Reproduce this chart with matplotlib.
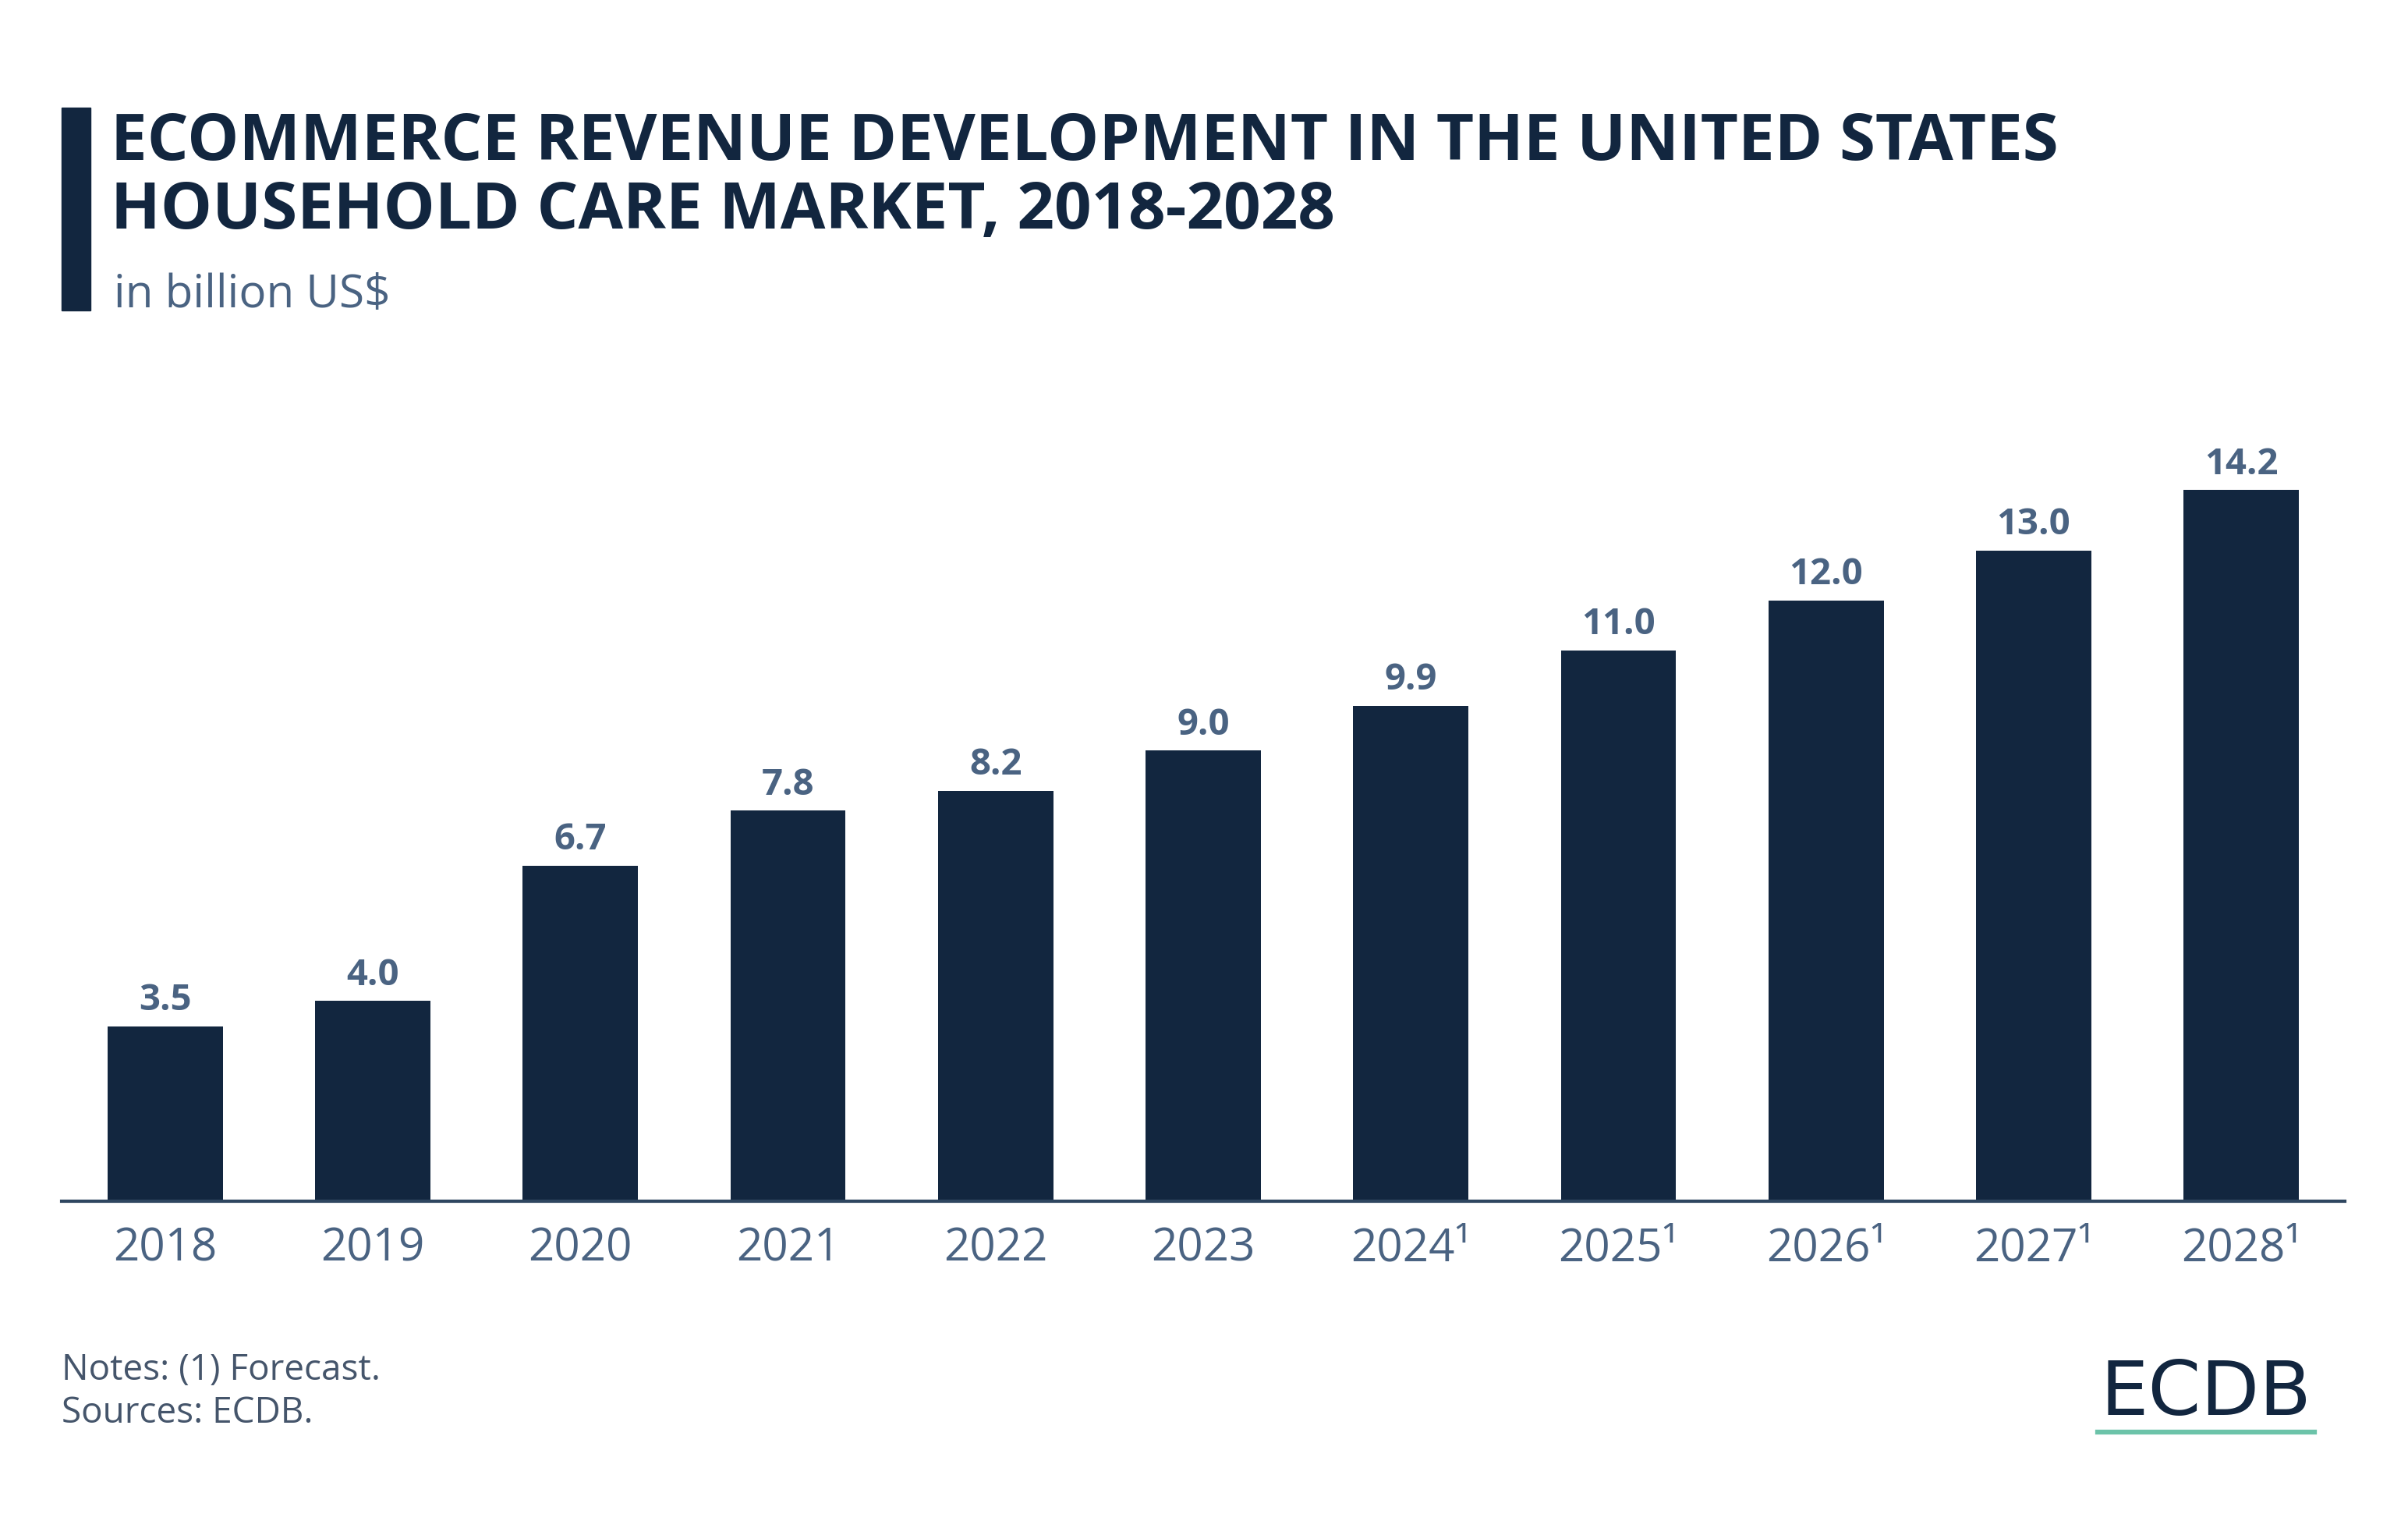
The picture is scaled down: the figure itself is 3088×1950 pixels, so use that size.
import matplotlib.pyplot as plt
from matplotlib.patches import Rectangle
from matplotlib.lines import Line2D

# data
years = ['2018', '2019', '2020', '2021', '2022', '2023',
         '2024¹', '2025¹', '2026¹', '2027¹', '2028¹']
revenue = [3.5, 4.0, 6.7, 7.8, 8.2, 9.0, 9.9, 11.0, 12.0, 13.0, 14.2]

navy = '#12263f'
slate = '#4a6382'
green = '#6cc3a9'

plt.rcParams['font.family'] = ['Open Sans', 'DejaVu Sans']

W, H = 1568, 990  # layout measured on the shrunk reference
fig = plt.figure(figsize=(30.88, 19.5), dpi=100)


def fx(x):
    return x / W


def fy(y):
    return 1 - y / H


# accent bar + title block
fig.patches.append(Rectangle((fx(40), fy(202)), fx(59) - fx(40), fy(70) - fy(202),
                             transform=fig.transFigure, color=navy))
fig.text(fx(72), fy(104), 'ECOMMERCE REVENUE DEVELOPMENT IN THE UNITED STATES',
         fontsize=60, fontweight='bold', color=navy, va='baseline')
fig.text(fx(72), fy(149), 'HOUSEHOLD CARE MARKET, 2018-2028',
         fontsize=60, fontweight='bold', color=navy, va='baseline')
fig.text(fx(74), fy(200), 'in billion US$', fontsize=42, color=slate, va='baseline')

# bars
ax = fig.add_axes([fx(40), fy(782), fx(1527) - fx(40), fy(280) - fy(782)])
bars = ax.bar(range(len(years)), revenue, width=0.555, color=navy, zorder=2)
ax.bar_label(bars, labels=[f'{v:.1f}' for v in revenue], padding=7,
             fontsize=34, fontweight='bold', color=slate)
ax.set_xlim(-0.5, len(years) - 0.5)
ax.set_ylim(0, (782 - 280) / 32.6)
ax.set_xticks(range(len(years)))
ax.set_xticklabels(years, fontsize=42, color=slate)
ax.tick_params(axis='x', length=0, pad=23)
ax.set_yticks([])
for s in ['top', 'right', 'left']:
    ax.spines[s].set_visible(False)
ax.spines['bottom'].set_color('#2f4660')
ax.spines['bottom'].set_linewidth(3)
ax.patch.set_alpha(0)

# footer
fig.text(fx(40), fy(898), 'Notes: (1) Forecast.', fontsize=33, color='#45556b', va='baseline')
fig.text(fx(40), fy(926), 'Sources: ECDB.', fontsize=33, color='#45556b', va='baseline')

# logo
fig.text(fx(1436.5), fy(921), 'ECDB', fontsize=70, color=navy, ha='center',
         va='baseline', family=['DejaVu Sans'])
fig.lines.append(Line2D([fx(1366), fx(1507)], [fy(932), fy(932)],
                        transform=fig.transFigure, color=green, lw=4.5))

fig.savefig('out.png', dpi=100, facecolor='white')
